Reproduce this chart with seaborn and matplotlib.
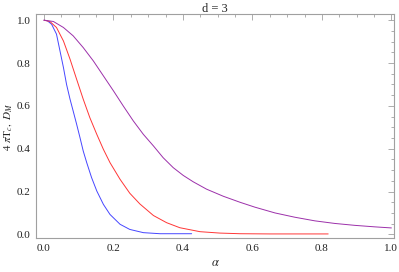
import numpy as np
import pandas as pd
import seaborn as sns
import matplotlib
matplotlib.use("Agg")
import matplotlib.pyplot as plt
from matplotlib.ticker import MultipleLocator

# 读取自图片的数据点
alpha_blue = [0.0, 0.010, 0.022, 0.036, 0.046, 0.056, 0.065, 0.075, 0.084, 0.094, 0.1036,
              0.113, 0.123, 0.137, 0.152, 0.171, 0.19, 0.219, 0.247, 0.286, 0.334, 0.38, 0.425]
val_blue = [1.0, 0.997, 0.981, 0.935, 0.857, 0.779, 0.70, 0.631, 0.576, 0.514, 0.452,
            0.389, 0.335, 0.265, 0.2025, 0.14, 0.093, 0.047, 0.023, 0.008, 0.003, 0.003, 0.003]

alpha_red = [0.0, 0.017, 0.036, 0.056, 0.075, 0.094, 0.113, 0.132, 0.152, 0.171, 0.19,
             0.219, 0.247, 0.276, 0.315, 0.353, 0.391, 0.449, 0.506, 0.564, 0.65, 0.75, 0.818]
val_red = [1.0, 0.994, 0.966, 0.903, 0.818, 0.724, 0.631, 0.545, 0.467, 0.397, 0.335,
           0.257, 0.192, 0.142, 0.088, 0.0545, 0.031, 0.0125, 0.006, 0.003, 0.002, 0.002, 0.002]

alpha_purple = [0.0, 0.027, 0.056, 0.084, 0.113, 0.142, 0.171, 0.2, 0.228, 0.257, 0.286,
                0.315, 0.343, 0.372, 0.401, 0.43, 0.468, 0.516, 0.564, 0.607, 0.665,
                0.722, 0.78, 0.837, 0.895, 0.9525, 1.0]
val_purple = [1.0, 0.994, 0.966, 0.927, 0.872, 0.81, 0.74, 0.67, 0.60, 0.53, 0.467,
              0.413, 0.358, 0.3115, 0.275, 0.245, 0.211, 0.178, 0.150, 0.127, 0.100,
              0.08, 0.063, 0.051, 0.042, 0.035, 0.03]

df = pd.concat([
    pd.DataFrame({"alpha": alpha_blue, "val": val_blue, "curve": "b"}),
    pd.DataFrame({"alpha": alpha_red, "val": val_red, "curve": "r"}),
    pd.DataFrame({"alpha": alpha_purple, "val": val_purple, "curve": "p"}),
], ignore_index=True)

sns.set_style("white")
plt.rcParams["font.family"] = ["Liberation Serif", "DejaVu Serif"]
plt.rcParams["mathtext.fontset"] = "stix"

fig = plt.figure(figsize=(3.99, 2.72), dpi=100)
ax = fig.add_axes([0.0902, 0.125, 0.8973, 0.822])

sns.lineplot(data=df, x="alpha", y="val", hue="curve", sort=False, estimator=None,
             palette={"b": "#4646ff", "r": "#ff3636", "p": "#9c30aa"},
             linewidth=0.7, legend=False, ax=ax)

ax.set_xlim(-0.023, 1.0075)
ax.set_ylim(-0.017, 1.027)
ax.xaxis.set_major_locator(MultipleLocator(0.2))
ax.xaxis.set_minor_locator(MultipleLocator(0.05))
ax.yaxis.set_major_locator(MultipleLocator(0.2))
ax.yaxis.set_minor_locator(MultipleLocator(0.05))
ax.xaxis.set_major_formatter(plt.FuncFormatter(lambda v, p: f"{v:.1f}"))
ax.yaxis.set_major_formatter(plt.FuncFormatter(lambda v, p: f"{v:.1f}"))

frame_col = "#a0a0a0"
for s in ax.spines.values():
    s.set_color(frame_col)
    s.set_linewidth(0.8)
ax.tick_params(which="both", direction="in", top=True, right=True, color=frame_col,
               labelsize=8, labelcolor="#222222", width=0.6)
ax.tick_params(which="major", length=4, pad=4)
ax.tick_params(which="minor", length=2)

ax.set_title("d = 3", fontsize=9, pad=2)
ax.set_xlabel(r"$\alpha$", fontsize=9, labelpad=3)
ax.set_ylabel(r"$4\ \pi\mathrm{T}_{c},\ D_{M}$", fontsize=8, labelpad=2)

fig.savefig("out.png", dpi=100)
